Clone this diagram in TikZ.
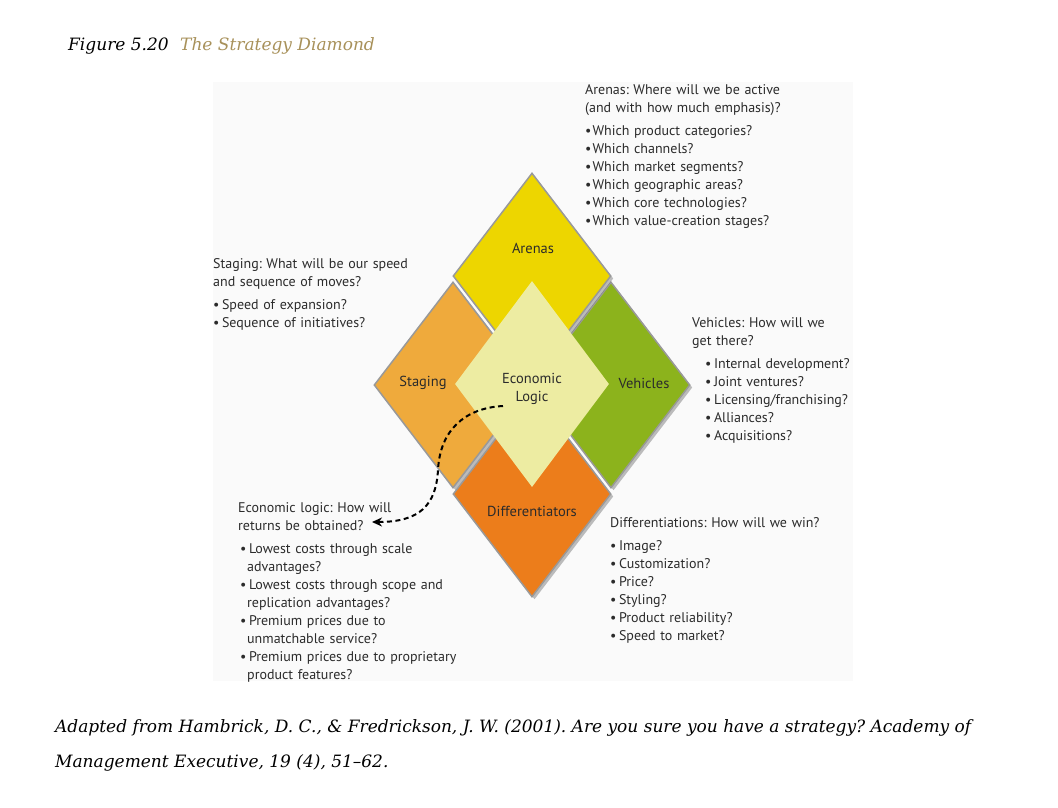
\documentclass[tikz,border=0pt]{standalone}
\usepackage{fontspec}
\setmainfont{DejaVu Serif}
\newfontfamily\diagfont{PT Sans}
\usetikzlibrary{shapes.geometric,shadows,arrows.meta}
\definecolor{goldtitle}{HTML}{A8915A}
\definecolor{arenasc}{HTML}{EDD600}
\definecolor{stagingc}{HTML}{EFAA3C}
\definecolor{vehiclesc}{HTML}{8CB31C}
\definecolor{diffc}{HTML}{EC7D1B}
\definecolor{centerc}{HTML}{EDECA2}
\definecolor{txtc}{HTML}{2B2B2B}
\newcommand\bul{\textbullet\hspace{2.5pt}}
\frenchspacing
\begin{document}
\begin{tikzpicture}[x=1pt,y=-1pt,
  dia/.style={diamond, inner sep=0pt, minimum width=158pt, minimum height=206pt,
    draw=black!40, line width=1.5pt,
    drop shadow={shadow xshift=2.5pt, shadow yshift=-2.5pt, opacity=0.25, fill=black}},
  cdia/.style={diamond, inner sep=0pt, minimum width=154pt, minimum height=206pt, fill=centerc},
  lbl/.style={font=\diagfont\fontsize{14.5}{18}\selectfont, text=txtc, align=center, inner sep=0pt},
  blk/.style={font=\diagfont\fontsize{14}{18}\selectfont, text=txtc, anchor=base west,
    inner sep=0pt, text width=280pt, align=left},
  serifit/.style={font=\itshape\fontsize{17}{35}\selectfont, anchor=base west, inner sep=0pt},
  dasharrow/.style={line width=2pt, dash pattern=on 5pt off 3.5pt,
    -{Stealth[length=10pt,width=9pt]}}
]
\useasboundingbox (0,0) rectangle (1058,807);
\fill[white] (0,0) rectangle (1058,807);
\fill[black!2] (213,82) rectangle (853,681);

% title
\node[serifit] (figno) at (68,50) {Figure 5.20};
\node[serifit, text=goldtitle] (figtitle) at (180,50) {The Strategy Diamond};

% diamonds
\node[dia, fill=stagingc] (staging) at (453,385) {};
\node[dia, fill=vehiclesc] (vehicles) at (611,385) {};
\node[dia, fill=diffc] (diff) at (532,494) {};
\node[dia, fill=arenasc] (arenas) at (532,276) {};
\node[cdia] (center) at (532,384) {};

% diamond labels
\node[lbl] (arenasLbl) at (533,248) {Arenas};
\node[lbl] (stagingLbl) at (423,383) {Staging};
\node[lbl] (vehiclesLbl) at (644,383) {Vehicles};
\node[lbl] (diffLbl) at (532,511) {Differentiators};
\node[lbl] (centerLbl) at (532,389) {Economic\\Logic};

% text blocks
\node[blk] (arenasTxt) at (585,94) {Arenas: Where will we be active\\
(and with how much emphasis)?\\[5pt]
\textbullet\hspace{1pt}Which product categories?\\
\textbullet\hspace{1pt}Which channels?\\
\textbullet\hspace{1pt}Which market segments?\\
\textbullet\hspace{1pt}Which geographic areas?\\
\textbullet\hspace{1pt}Which core technologies?\\
\textbullet\hspace{1pt}Which value-creation stages?};

\node[blk] (stagingTxt) at (213,268) {Staging: What will be our speed\\
and sequence of moves?\\[5pt]
\bul Speed of expansion?\\
\bul Sequence of initiatives?};

\node[blk] (vehiclesTxt) at (692,327) {Vehicles: How will we\\
get there?\\[5pt]
\hspace*{13pt}\bul Internal development?\\
\hspace*{13pt}\bul Joint ventures?\\
\hspace*{13pt}\bul Licensing/franchising?\\
\hspace*{13pt}\bul Alliances?\\
\hspace*{13pt}\bul Acquisitions?};

\node[blk] (econTxt) at (238,512) {Economic logic: How will\\
returns be obtained?\\[5pt]
\hspace*{2pt}\bul Lowest costs through scale\\
\hspace*{9pt}advantages?\\
\hspace*{2pt}\bul Lowest costs through scope and\\
\hspace*{9pt}replication advantages?\\
\hspace*{2pt}\bul Premium prices due to\\
\hspace*{9pt}unmatchable service?\\
\hspace*{2pt}\bul Premium prices due to proprietary\\
\hspace*{9pt}product features?};

\node[blk] (diffTxt) at (610,527) {Differentiations: How will we win?\\[5pt]
\bul Image?\\
\bul Customization?\\
\bul Price?\\
\bul Styling?\\
\bul Product reliability?\\
\bul Speed to market?};

% dashed arrow
\coordinate (dashStart) at (503,406);
\coordinate (dashEnd) at (372,522);
\draw[dasharrow] (dashStart) .. controls (465,408) and (440,430) .. (438,470)
  .. controls (436,505) and (420,522) .. (dashEnd);

% caption
\node[serifit] (cap1) at (55,732) {Adapted from Hambrick, D. C., \& Fredrickson, J. W. (2001). Are you sure you have a strategy? Academy of};
\node[serifit] (cap2) at (55,767) {Management Executive, 19 (4), 51–62.};
\end{tikzpicture}
\end{document}
